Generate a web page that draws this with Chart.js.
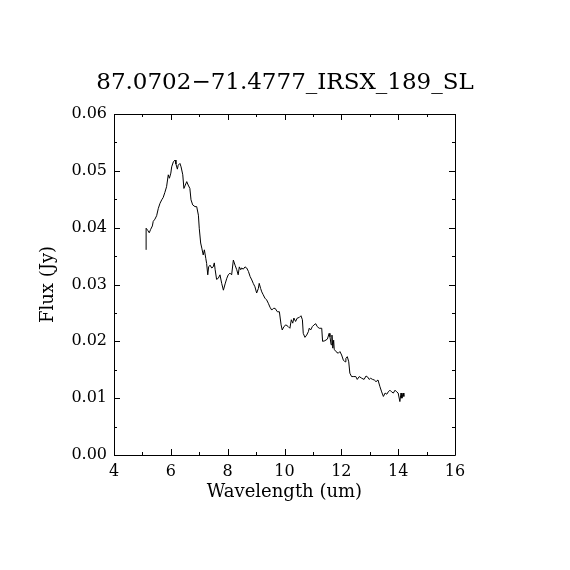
<!DOCTYPE html>
<html>
<head>
<meta charset="utf-8">
<script src="https://cdn.jsdelivr.net/npm/chart.js@4"></script>
<style>
html,body{margin:0;padding:0;background:#fff;}
#wrap{width:570px;height:570px;}
</style>
</head>
<body>
<div id="wrap"><canvas id="c" width="570" height="570"></canvas></div>
<script>
const chartTitle = "87.0702\u221271.4777_IRSX_189_SL";
const xLabel = "Wavelength (um)";
const yLabel = "Flux (Jy)";
const xTicks = [4, 6, 8, 10, 12, 14, 16];
const yTicks = [0.00, 0.01, 0.02, 0.03, 0.04, 0.05, 0.06];

const wavelength = [5.13,5.13,5.19,5.24,5.29,5.35,5.38,5.44,5.50,5.56,5.62,5.68,5.73,5.79,5.85,5.91,5.95,6.00,6.03,6.09,6.15,6.18,6.23,6.26,6.32,6.36,6.42,6.46,6.51,6.56,6.61,6.67,6.71,6.77,6.85,6.91,6.97,7.00,7.05,7.09,7.14,7.18,7.23,7.26,7.30,7.33,7.38,7.44,7.49,7.53,7.56,7.61,7.67,7.73,7.79,7.85,7.91,7.97,8.02,8.08,8.14,8.20,8.26,8.32,8.37,8.41,8.46,8.49,8.55,8.61,8.67,8.73,8.79,8.85,8.90,8.96,9.02,9.08,9.11,9.16,9.20,9.25,9.31,9.37,9.43,9.49,9.55,9.61,9.67,9.75,9.82,9.88,9.92,9.98,10.05,10.13,10.19,10.24,10.29,10.33,10.39,10.45,10.52,10.58,10.63,10.66,10.72,10.78,10.84,10.87,10.92,10.98,11.04,11.10,11.15,11.22,11.31,11.34,11.42,11.51,11.57,11.60,11.64,11.67,11.70,11.73,11.75,11.81,11.89,11.95,12.01,12.07,12.13,12.16,12.21,12.26,12.30,12.36,12.44,12.51,12.56,12.63,12.72,12.80,12.87,12.93,12.98,13.03,13.10,13.16,13.22,13.29,13.36,13.42,13.48,13.54,13.60,13.65,13.71,13.77,13.83,13.89,13.95,14.00,14.06,14.10,14.13,14.18,14.20];
const flux = [0.0361,0.0399,0.0395,0.0391,0.0397,0.0403,0.0411,0.0415,0.0421,0.0434,0.0443,0.0449,0.0453,0.0462,0.0472,0.0493,0.0487,0.0496,0.0507,0.0516,0.0519,0.0512,0.0503,0.0510,0.0513,0.0507,0.0493,0.0469,0.0475,0.0481,0.0475,0.0469,0.0449,0.0440,0.0437,0.0437,0.0422,0.0399,0.0373,0.0364,0.0352,0.0361,0.0346,0.0337,0.0317,0.0331,0.0334,0.0329,0.0331,0.0338,0.0326,0.0309,0.0311,0.0317,0.0302,0.0290,0.0301,0.0311,0.0317,0.0320,0.0317,0.0343,0.0334,0.0326,0.0317,0.0331,0.0326,0.0329,0.0327,0.0331,0.0329,0.0323,0.0314,0.0308,0.0302,0.0296,0.0285,0.0293,0.0302,0.0293,0.0287,0.0282,0.0276,0.0273,0.0267,0.0260,0.0255,0.0258,0.0258,0.0252,0.0252,0.0229,0.0220,0.0226,0.0229,0.0226,0.0223,0.0238,0.0232,0.0241,0.0235,0.0241,0.0242,0.0245,0.0238,0.0214,0.0207,0.0211,0.0217,0.0223,0.0220,0.0226,0.0229,0.0231,0.0226,0.0223,0.0223,0.0200,0.0201,0.0204,0.0214,0.0208,0.0194,0.0211,0.0188,0.0202,0.0186,0.0182,0.0179,0.0182,0.0176,0.0167,0.0164,0.0170,0.0173,0.0164,0.0144,0.0138,0.0138,0.0138,0.0133,0.0138,0.0135,0.0133,0.0139,0.0137,0.0133,0.0135,0.0133,0.0132,0.0129,0.0132,0.0120,0.0111,0.0103,0.0109,0.0107,0.0111,0.0114,0.0111,0.0109,0.0114,0.0111,0.0109,0.0094,0.0109,0.0100,0.0109,0.0103];

const points = wavelength.map((w, i) => ({x: w, y: flux[i]}));
const FONT = "'DejaVu Serif', 'Liberation Serif', serif";

const frameTicks = {
  id: 'frameTicks',
  afterDatasetsDraw(chart) {
    const {ctx, chartArea: a, scales: {x, y}} = chart;
    ctx.save();
    ctx.strokeStyle = '#000';
    ctx.lineWidth = 1;
    ctx.beginPath();
    ctx.rect(Math.round(a.left) + 0.5, Math.round(a.top) + 0.5,
             Math.round(a.right - a.left), Math.round(a.bottom - a.top));
    ctx.stroke();
    ctx.beginPath();
    for (let i = 0; i <= (xTicks[xTicks.length-1] - xTicks[0]); i++) {
      const v = xTicks[0] + i;
      const px = Math.round(x.getPixelForValue(v)) + 0.5;
      const len = (i % 2 === 0) ? 6 : 3;
      ctx.moveTo(px, a.bottom); ctx.lineTo(px, a.bottom - len);
      ctx.moveTo(px, a.top); ctx.lineTo(px, a.top + len);
    }
    for (let i = 0; i <= 12; i++) {
      const v = i * 0.005;
      const py = Math.round(y.getPixelForValue(v)) + 0.5;
      const len = (i % 2 === 0) ? 6 : 3;
      ctx.moveTo(a.left, py); ctx.lineTo(a.left + len, py);
      ctx.moveTo(a.right, py); ctx.lineTo(a.right - len, py);
    }
    ctx.stroke();
    ctx.restore();
  }
};

new Chart(document.getElementById('c'), {
  type: 'scatter',
  data: {
    datasets: [{
      data: points,
      showLine: true,
      borderColor: '#000',
      borderWidth: 1,
      pointRadius: 0,
      tension: 0,
      fill: false
    }]
  },
  options: {
    responsive: false,
    animation: false,
    devicePixelRatio: 1,
    layout: { padding: { left: 0, right: 0, top: 69, bottom: 68 } },
    plugins: {
      legend: { display: false },
      tooltip: { enabled: false },
      title: {
        display: true,
        text: chartTitle,
        color: '#000',
        font: { family: FONT, size: 23, weight: 'normal', lineHeight: 1.2 },
        padding: { top: 0, bottom: 17.4 }
      }
    },
    scales: {
      x: {
        type: 'linear',
        min: xTicks[0], max: xTicks[xTicks.length-1],
        afterFit(s) { s.height = 570 - 455 - 68; },
        afterBuildTicks(s) { s.ticks = xTicks.map(v => ({value: v})); },
        ticks: {
          color: '#000', padding: 7,
          font: { family: FONT, size: 16 },
          callback: v => String(v), maxRotation: 0
        },
        grid: { display: true, drawOnChartArea: false, drawTicks: false },
        border: { display: false },
        title: {
          display: true, text: xLabel, color: '#000',
          font: { family: FONT, size: 18, lineHeight: 1.2 },
          padding: { top: 0, bottom: -1 }
        }
      },
      y: {
        type: 'linear',
        position: 'left',
        min: 0, max: 0.06,
        afterFit(s) { s.width = 114; },
        afterBuildTicks(s) { s.ticks = yTicks.map(v => ({value: v})); },
        ticks: {
          color: '#000', padding: 7,
          font: { family: FONT, size: 16 },
          callback: v => Number(v).toFixed(2)
        },
        grid: { display: true, drawOnChartArea: false, drawTicks: false },
        border: { display: false },
        title: {
          display: true, text: yLabel, color: '#000',
          font: { family: FONT, size: 18, lineHeight: 1.2 },
          padding: { top: 38, bottom: 0 }
        }
      },
      yRight: {
        type: 'linear',
        position: 'right',
        min: 0, max: 0.06,
        afterFit(s) { s.width = 115; },
        ticks: { display: false },
        grid: { display: false },
        border: { display: false }
      }
    }
  },
  plugins: [frameTicks]
});
</script>
</body>
</html>
